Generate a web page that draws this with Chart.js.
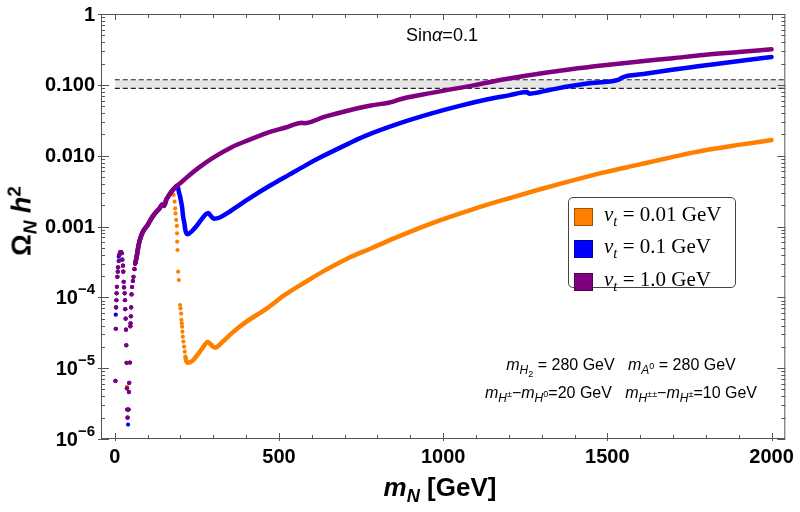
<!DOCTYPE html>
<html>
<head>
<meta charset="utf-8">
<script src="https://cdn.jsdelivr.net/npm/chart.js@4.4.0/dist/chart.umd.min.js"></script>
<style>
  html, body { margin: 0; padding: 0; background: #fff; }
  #wrap { position: relative; width: 800px; height: 512px; }
  #chart { position: absolute; left: 0; top: 0; }
  .txt { position: absolute; white-space: nowrap; color: #000; line-height: 1; transform: translate(-50%, -50%); }
  .txt sub, .txt sup { font-size: 70%; line-height: 0; }
  #ytitle { left: 22px; top: 221px; font: bold 27px "Liberation Sans", Arial, sans-serif; transform: translate(-50%, -50%) rotate(-90deg); }
  #xtitle { left: 440px; top: 487px; font: bold 26px "Liberation Sans", Arial, sans-serif; }
  #sina { left: 442px; top: 35px; font: 18px "Liberation Sans", Arial, sans-serif; }
  .note { font: 16px "Liberation Sans", Arial, sans-serif; left: 621px; }
  .note sub, .note sup { font-size: 75%; }
  #legend { position: absolute; left: 568px; top: 197px; width: 166px; height: 89px; border: 1px solid #444; border-radius: 5px; background: #fff; }
  .row { position: absolute; left: 5px; height: 18px; }
  .sw { position: absolute; left: 0; top: 0; width: 17px; height: 16px; border: 1px solid rgba(0,0,0,0.35); }
  .lab { position: absolute; left: 30px; top: -4px; font: 21px "Liberation Serif", "Times New Roman", serif; white-space: nowrap; line-height: 1; }
  .lab sub { font-size: 70%; line-height: 0; }
</style>
</head>
<body>
<div id="wrap">
  <canvas id="chart" width="800" height="512"></canvas>
  <div class="txt" id="ytitle">Ω<sub><i>N</i></sub> <i>h</i><sup>2</sup></div>
  <div class="txt" id="xtitle"><i>m</i><sub><i>N</i></sub> [GeV]</div>
  <div class="txt" id="sina">Sin<i>α</i>=0.1</div>
  <div class="txt note" style="top:365px"><i>m</i><sub><i>H</i><sub>2</sub></sub> = 280 GeV&nbsp;&nbsp;&nbsp;<i>m</i><sub><i>A</i><sup>0</sup></sub> = 280 GeV</div>
  <div class="txt note" style="top:393px"><i>m</i><sub><i>H</i><sup>±</sup></sub>−<i>m</i><sub><i>H</i><sup>0</sup></sub>=20 GeV&nbsp;&nbsp;&nbsp;<i>m</i><sub><i>H</i><sup>±±</sup></sub>−<i>m</i><sub><i>H</i><sup>±</sup></sub>=10 GeV</div>
  <div id="legend">
    <div class="row" style="top:10px"><div class="sw" style="background:#ff8000"></div><div class="lab"><i>v</i><sub><i>t</i></sub> = 0.01 GeV</div></div>
    <div class="row" style="top:42px"><div class="sw" style="background:#0000ff"></div><div class="lab"><i>v</i><sub><i>t</i></sub> = 0.1 GeV</div></div>
    <div class="row" style="top:75px"><div class="sw" style="background:#800080"></div><div class="lab"><i>v</i><sub><i>t</i></sub> = 1.0 GeV</div></div>
  </div>
</div>
<script>
// axis
const xMin = -42, xMax = 2042;
const xTickLabels = [0, 500, 1000, 1500, 2000];
const yTickValues = [1e-6, 1e-5, 1e-4, 1e-3, 1e-2, 1e-1, 1];
const yTickLabels = ['10^−6', '10^−5', '10^−4', '0.001', '0.010', '0.100', '1'];

// relic density band
const bandX = [0, xMax];
const bandLow = 0.089, bandHigh = 0.118;

// low mass dots, same for all three vt
const mN_dots = [2, 3, 4, 5, 5.5, 6.5, 8, 9, 10, 12, 14, 16, 19, 21, 23, 25, 26, 27, 28, 30, 31, 32, 33, 34, 35, 36, 37, 38, 39,
  42, 43, 44, 46, 47.5, 48, 49, 50, 51, 52.5, 55, 57, 60, 62];
const omega_dots = [6.6e-6, 3.6e-5, 7.2e-5, 9.1e-5, 1.14e-4, 1.41e-4, 1.95e-4, 2.3e-4, 2.65e-4, 3.26e-4, 4.0e-4, 4.3e-4, 4.35e-4, 4.2e-4,
  3.4e-4, 2.8e-4, 2.3e-4, 1.66e-4, 1.38e-4, 1.14e-4, 9.1e-5, 6.8e-5, 5.0e-5, 3.5e-5, 2.1e-5, 1.19e-5, 5.2e-6, 2.6e-6, 2.0e-6,
  2.6e-6, 4.6e-6, 6.2e-6, 1.2e-5, 3.9e-5, 4.3e-5, 5.4e-5, 7.2e-5, 1.1e-4, 1.4e-4, 1.7e-4, 1.95e-4, 2.5e-4, 3.0e-4];

// common curve before the series split
const mN_common = [62, 66, 71, 76, 86, 100, 116, 136, 145, 150, 157, 167, 177];
const omega_common = [3.0e-4, 3.6e-4, 5.0e-4, 6.4e-4, 8.5e-4, 1.05e-3, 1.4e-3, 1.8e-3, 2.05e-3, 1.95e-3, 2.4e-3, 2.85e-3, 3.3e-3];

// vt = 1.0 GeV
const mN_purple = [187, 197, 227, 258, 300, 359, 409, 460, 520, 571, 576, 640, 712, 780, 853, 858, 965, 1096, 1187, 1290, 1389, 1490, 1591, 1700, 1793, 1900, 2000];
const omega_purple = [3.7e-3, 4.0e-3, 5.3e-3, 6.9e-3, 9.4e-3, 0.0134, 0.0167, 0.0207, 0.025, 0.0292, 0.0287, 0.0355, 0.0435, 0.051, 0.059, 0.0605,
  0.077, 0.099, 0.120, 0.143, 0.166, 0.189, 0.212, 0.238, 0.264, 0.290, 0.317];

// vt = 0.1 GeV
const mN_blue = [192, 195, 199, 202, 205, 207, 209, 212, 214, 217, 222, 235, 247, 263, 278, 285, 293, 303, 318, 348, 389, 429, 480, 530, 581, 631,
  712, 763, 864, 965, 1050, 1136, 1200, 1255, 1262, 1320, 1389, 1460, 1535, 1545, 1610, 1692, 1770, 1843, 1920, 2000];
const omega_blue = [3.65e-3, 3.1e-3, 2.64e-3, 2.24e-3, 1.87e-3, 1.53e-3, 1.3e-3, 1.11e-3, 9.4e-4, 8.2e-4, 7.8e-4, 8.6e-4, 9.9e-4, 1.24e-3, 1.5e-3,
  1.55e-3, 1.4e-3, 1.29e-3, 1.33e-3, 1.6e-3, 2.15e-3, 2.85e-3, 3.95e-3, 5.35e-3, 7.3e-3, 9.7e-3, 0.0148, 0.019, 0.0283, 0.0395, 0.0505, 0.0625,
  0.071, 0.079, 0.075, 0.084, 0.096, 0.107, 0.118, 0.127, 0.142, 0.162, 0.181, 0.200, 0.222, 0.247];
const mN_blueExtra = [3, 12, 40.5, 65];
const omega_blueExtra = [5.7e-5, 3.75e-4, 1.6e-6, 3.5e-4];

// vt = 0.01 GeV
const mN_orangeDrop = [179, 182, 184, 185, 187, 189, 189.5, 190, 191, 193, 195, 199, 200, 202, 203, 204, 205, 206, 207, 209, 211, 213];
const omega_orangeDrop = [2.79e-3, 2.24e-3, 1.8e-3, 1.53e-3, 1.24e-3, 1.02e-3, 8.0e-4, 6.1e-4, 4.66e-4, 2.3e-4, 1.75e-4, 7.8e-5, 7.0e-5,
  5.9e-5, 4.8e-5, 4.3e-5, 3.85e-5, 3.27e-5, 2.78e-5, 2.37e-5, 2.01e-5, 1.71e-5];
const mN_orange = [215, 217, 222, 235, 250, 268, 283, 293, 305, 330, 359, 400, 460, 520, 581, 640, 712, 780, 850, 920, 985, 1090, 1187, 1290,
  1389, 1490, 1591, 1700, 1793, 1900, 2000];
const omega_orange = [1.45e-5, 1.3e-5, 1.19e-5, 1.25e-5, 1.5e-5, 1.95e-5, 2.35e-5, 2.15e-5, 1.95e-5, 2.4e-5, 3.2e-5, 4.5e-5, 6.8e-5, 1.1e-4,
  1.65e-4, 2.4e-4, 3.6e-4, 4.9e-4, 6.8e-4, 9.2e-4, 1.2e-3, 1.75e-3, 2.4e-3, 3.3e-3, 4.4e-3, 5.8e-3, 7.4e-3, 9.6e-3, 0.0118, 0.0142, 0.0166];
const mN_orangeExtra = [37.5, 60];
const omega_orangeExtra = [5.5e-6, 2.55e-4];

const ORANGE = '#ff8000', BLUE = '#0000ff', PURPLE = '#800080';

const pts = (xs, ys) => xs.map((x, i) => ({ x: x, y: ys[i] }));

function dots(data, color) {
  return { data: data, showLine: false, pointRadius: 2.1, pointBorderWidth: 0,
    pointBackgroundColor: color, backgroundColor: color, borderColor: color };
}
function curve(data, color) {
  return { data: data, showLine: true, borderColor: color, borderWidth: 4.5, pointRadius: 0,
    cubicInterpolationMode: 'monotone', borderCapStyle: 'round', borderJoinStyle: 'round', fill: false };
}

const yLabelIndex = v => yTickValues.findIndex(t => Math.abs(v / t - 1) < 1e-6);

// inward ticks, frame and y labels (with real superscripts) like mathematica
const frameTicks = {
  id: 'frameTicks',
  afterDraw(chart) {
    const { ctx, chartArea: a, scales: { x, y } } = chart;
    ctx.save();
    ctx.strokeStyle = '#555';
    ctx.lineWidth = 1;
    ctx.strokeRect(a.left + 0.5, a.top + 0.5, a.right - a.left - 1, a.bottom - a.top - 1);
    ctx.beginPath();
    x.ticks.forEach(t => {
      const px = Math.round(x.getPixelForValue(t.value)) + 0.5;
      const major = xTickLabels.includes(t.value);
      const len = major ? 6 : 4;
      ctx.moveTo(px, a.bottom); ctx.lineTo(px, a.bottom - len);
      ctx.moveTo(px, a.top); ctx.lineTo(px, a.top + len);
      if (major) { ctx.moveTo(px, a.bottom); ctx.lineTo(px, a.bottom + 2); }
    });
    y.ticks.forEach(t => {
      const py = Math.round(y.getPixelForValue(t.value)) + 0.5;
      const major = yLabelIndex(t.value) >= 0;
      const len = major ? 8 : 4;
      ctx.moveTo(a.left, py); ctx.lineTo(a.left + len, py);
      ctx.moveTo(a.right, py); ctx.lineTo(a.right - len, py);
      if (major) { ctx.moveTo(a.left, py); ctx.lineTo(a.left - 3, py); }
    });
    ctx.stroke();

    ctx.fillStyle = '#000';
    ctx.textAlign = 'right';
    ctx.textBaseline = 'middle';
    const right = a.left - 6;
    yTickValues.forEach((v, i) => {
      const py = y.getPixelForValue(v);
      const parts = yTickLabels[i].split('^');
      if (parts.length === 2) {
        ctx.font = 'bold 15px "Liberation Sans", Arial, sans-serif';
        const w = ctx.measureText(parts[1]).width;
        ctx.fillText(parts[1], right, py - 7);
        ctx.font = 'bold 20px "Liberation Sans", Arial, sans-serif';
        ctx.fillText(parts[0], right - w, py + 1);
      } else {
        ctx.font = 'bold 20px "Liberation Sans", Arial, sans-serif';
        ctx.fillText(parts[0], right, py + 1);
      }
    });
    ctx.restore();
  }
};

const common = pts(mN_common, omega_common);
const lowDots = pts(mN_dots, omega_dots);

let omegaChart = new Chart(document.getElementById('chart').getContext('2d'), {
  type: 'scatter',
  data: {
    datasets: [
      dots(lowDots, PURPLE),
      curve(common.concat(pts(mN_purple, omega_purple)), PURPLE),
      dots(lowDots.concat(pts(mN_blueExtra, omega_blueExtra)), BLUE),
      curve(common.concat(pts(mN_blue, omega_blue)), BLUE),
      dots(lowDots.concat(pts(mN_orangeExtra, omega_orangeExtra), pts(mN_orangeDrop, omega_orangeDrop)), ORANGE),
      curve(common.concat([{ x: 178, y: null }], pts(mN_orange, omega_orange)), ORANGE),
      {
        data: pts(bandX, [bandLow, bandLow]), showLine: true, pointRadius: 0,
        borderColor: '#222', borderWidth: 1.2, borderDash: [5, 3], fill: false
      },
      {
        data: pts(bandX, [bandHigh, bandHigh]), showLine: true, pointRadius: 0,
        borderColor: '#222', borderWidth: 1.2, borderDash: [5, 3],
        fill: '-1', backgroundColor: '#e6e6e6'
      }
    ]
  },
  options: {
    responsive: false,
    animation: false,
    layout: { padding: { top: 14, right: 11, left: 0, bottom: 0 } },
    plugins: {
      legend: { display: false },
      tooltip: { enabled: false }
    },
    scales: {
      x: {
        type: 'linear',
        min: xMin,
        max: xMax,
        afterBuildTicks: s => {
          const t = [];
          for (let v = 0; v <= 2000; v += 100) t.push({ value: v });
          s.ticks = t;
        },
        afterFit: s => { s.height = 73; },
        grid: { display: false, drawTicks: false },
        border: { display: false },
        ticks: {
          autoSkip: false,
          maxRotation: 0,
          padding: 6,
          color: '#000',
          font: { family: '"Liberation Sans", Arial, sans-serif', size: 20, weight: 'bold' },
          callback: v => xTickLabels.includes(v) ? String(v) : ''
        }
      },
      y: {
        type: 'logarithmic',
        min: 1e-6,
        max: 1,
        afterBuildTicks: s => {
          const t = [];
          for (let d = -6; d < 0; d++) {
            for (let k = 1; k <= 9; k++) t.push({ value: k * Math.pow(10, d) });
          }
          t.push({ value: 1 });
          s.ticks = t;
        },
        afterFit: s => { s.width = 101; },
        grid: { display: false, drawTicks: false },
        border: { display: false },
        ticks: { display: false }
      }
    }
  },
  plugins: [frameTicks]
});
</script>
</body>
</html>
